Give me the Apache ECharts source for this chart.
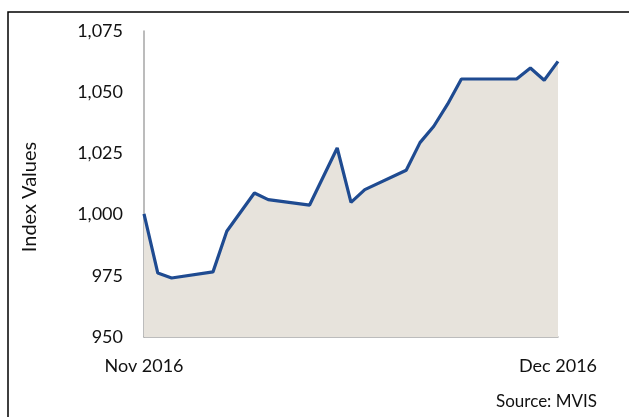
<!DOCTYPE html>
<html>
<head>
<meta charset="utf-8">
<script src="https://cdn.jsdelivr.net/npm/echarts@6/dist/echarts.min.js"></script>
<style>
  html, body { margin: 0; padding: 0; background: #fff; }
  #chart { width: 629px; height: 417px; }
</style>
</head>
<body>
<div id="chart"></div>
<script>
const days = [
  '2016-11-01', '2016-11-02', '2016-11-03', '2016-11-04', '2016-11-05', '2016-11-06',
  '2016-11-07', '2016-11-08', '2016-11-09', '2016-11-10', '2016-11-11', '2016-11-12',
  '2016-11-13', '2016-11-14', '2016-11-15', '2016-11-16', '2016-11-17', '2016-11-18',
  '2016-11-19', '2016-11-20', '2016-11-21', '2016-11-22', '2016-11-23', '2016-11-24',
  '2016-11-25', '2016-11-26', '2016-11-27', '2016-11-28', '2016-11-29', '2016-11-30',
  '2016-12-01'
];
// null = no visible vertex, line runs straight across
const indexValues = [
  1000.3, 976.1, 974.1, null, null, 976.6,
  993.2, null, 1008.8, 1006.1, null, null,
  1003.9, null, 1027.2, 1005.0, 1010.2, null,
  null, 1018.1, 1029.4, 1036.1, 1045.1, 1055.4,
  null, null, null, 1055.4, 1059.9, 1054.9,
  1062.6
];
const xTickLabels = ['Nov 2016', 'Dec 2016'];
const yTicks = { min: 950, max: 1075, step: 25 };

const font = 'Lato, "Open Sans", sans-serif';
const chart = echarts.init(document.getElementById('chart'));

chart.setOption({
  animation: false,
  textStyle: { fontFamily: font },
  grid: { left: 144, right: 71, top: 31, bottom: 80 },
  title: {
    text: 'Source: MVIS',
    right: 27,
    bottom: 2,
    textStyle: { fontFamily: font, fontSize: 17, fontWeight: 'normal', color: '#111' }
  },
  graphic: [
    {
      type: 'polyline',
      shape: { points: [[8, 417], [8, 12], [629, 12]] },
      style: { stroke: '#000', lineWidth: 1.5, fill: null }
    }
  ],
  xAxis: {
    type: 'category',
    data: days,
    boundaryGap: false,
    axisLine: { lineStyle: { color: '#a6a6a6', width: 1.5 } },
    axisTick: { show: false },
    axisLabel: {
      interval: (i) => i === 0 || i === days.length - 1,
      formatter: (v, i) => (i === 0 ? xTickLabels[0] : xTickLabels[1]),
      margin: 20,
      fontSize: 18,
      color: '#111',
      fontFamily: font
    },
    splitLine: { show: false }
  },
  yAxis: {
    type: 'value',
    min: yTicks.min,
    max: yTicks.max,
    interval: yTicks.step,
    name: 'Index Values',
    nameLocation: 'middle',
    nameGap: 104,
    nameTextStyle: { fontSize: 20, color: '#111', fontFamily: font, padding: [0, 26, 0, 0] },
    axisLine: { show: true, lineStyle: { color: '#a6a6a6', width: 1.5 } },
    axisTick: { show: false },
    splitLine: { show: false },
    axisLabel: {
      margin: 21,
      fontSize: 18,
      color: '#111',
      fontFamily: font,
      formatter: (v) => v.toLocaleString('en-US')
    }
  },
  series: [
    {
      type: 'line',
      data: indexValues,
      connectNulls: true,
      symbol: 'none',
      lineStyle: { color: '#1f4b91', width: 3.2 },
      areaStyle: { color: '#e7e3dc', opacity: 1 }
    }
  ]
});
</script>
</body>
</html>
